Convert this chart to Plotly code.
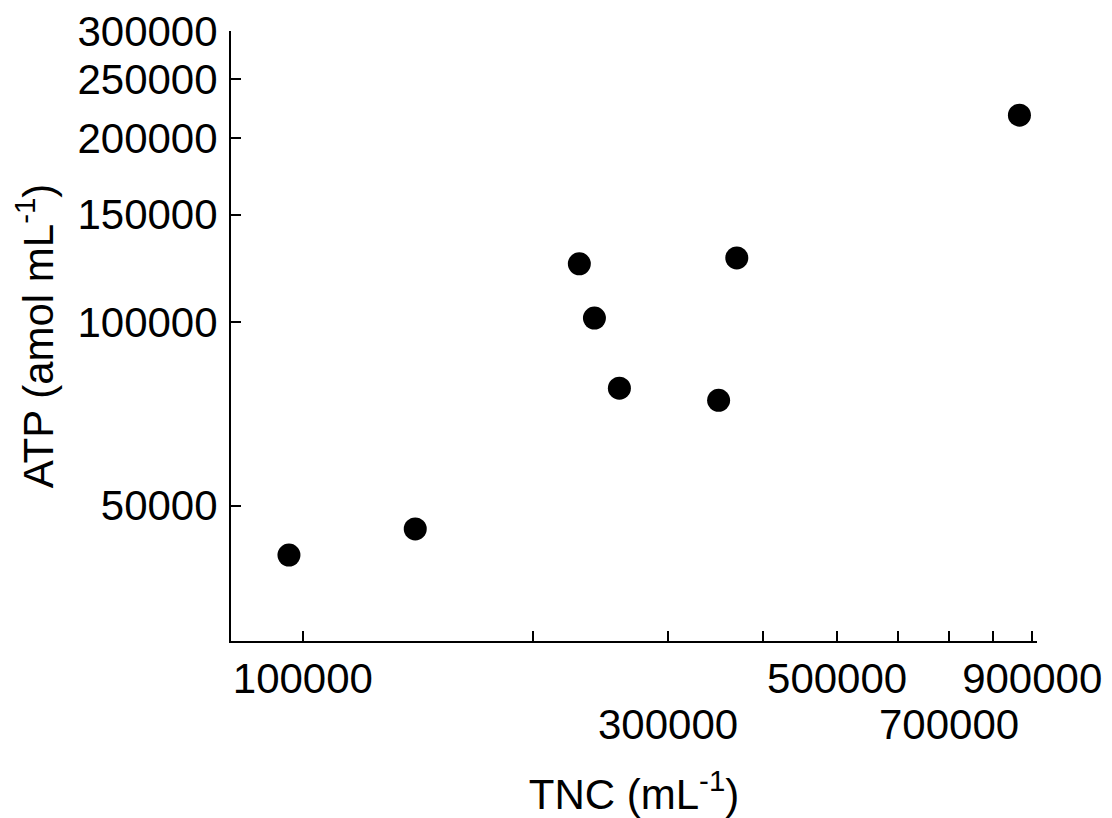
import numpy as np
import plotly.graph_objects as go

tnc = [95900, 140300, 230000, 240700, 259500, 349900, 369600, 866000]
atp = [41500, 45800, 124600, 101500, 77900, 74400, 127400, 218300]

x_tickvals = [100000, 500000, 900000]
x_ticktext = ["100000", "500000", "900000"]
x_minorvals = [200000, 300000, 400000, 600000, 700000, 800000]
x_lowvals = [300000, 700000]
x_lowtext = ["300000", "700000"]
y_tickvals = [50000, 100000, 150000, 200000, 250000, 300000]
y_ticktext = ["50000", "100000", "150000", "200000", "250000", "300000"]

font = "Liberation Sans, Arial, sans-serif"

fig = go.Figure(go.Scatter(
    x=tnc, y=atp, mode="markers",
    marker=dict(color="black", size=23, line=dict(width=0)),
))

# page body has an 8px margin, so the figure is shrunk / shifted to compensate
fig.update_layout(
    width=1104, height=810,
    margin=dict(l=223, r=75, t=23, b=177),
    plot_bgcolor="white", paper_bgcolor="white",
    showlegend=False,
    font=dict(family=font, size=42, color="black"),
)
for v, t in zip(x_lowvals, x_lowtext):
    fig.add_annotation(
        x=np.log10(v), y=0, xref="x", yref="paper",
        text=t, showarrow=False, xanchor="center", yanchor="top",
        yshift=-58, font=dict(size=42, color="black"),
    )
fig.update_xaxes(
    type="log", range=[4.906, 5.9605],
    tickvals=x_tickvals, ticktext=x_ticktext, tickangle=0,
    ticks="inside", ticklen=10, tickwidth=2, tickcolor="black",
    minor=dict(tickvals=x_minorvals, ticks="inside", ticklen=10, tickwidth=2,
               tickcolor="black", showgrid=False),
    showline=True, linewidth=2, linecolor="black",
    showgrid=False, zeroline=False, automargin=False,
    tickfont=dict(size=42),
    title=dict(text="TNC (mL<sup>-1</sup>)", font=dict(size=42), standoff=78),
)
fig.update_yaxes(
    type="log", range=[4.4771, 5.4771],
    tickvals=y_tickvals, ticktext=y_ticktext, tickangle=0,
    ticks="inside", ticklen=10, tickwidth=2, tickcolor="black",
    showline=True, linewidth=2, linecolor="black",
    showgrid=False, zeroline=False, automargin=False,
    tickfont=dict(size=42), ticklabelstandoff=3,
    title=dict(text="ATP (amol mL<sup>-1</sup>)", font=dict(size=42), standoff=23),
)

fig.write_html("out.html")
